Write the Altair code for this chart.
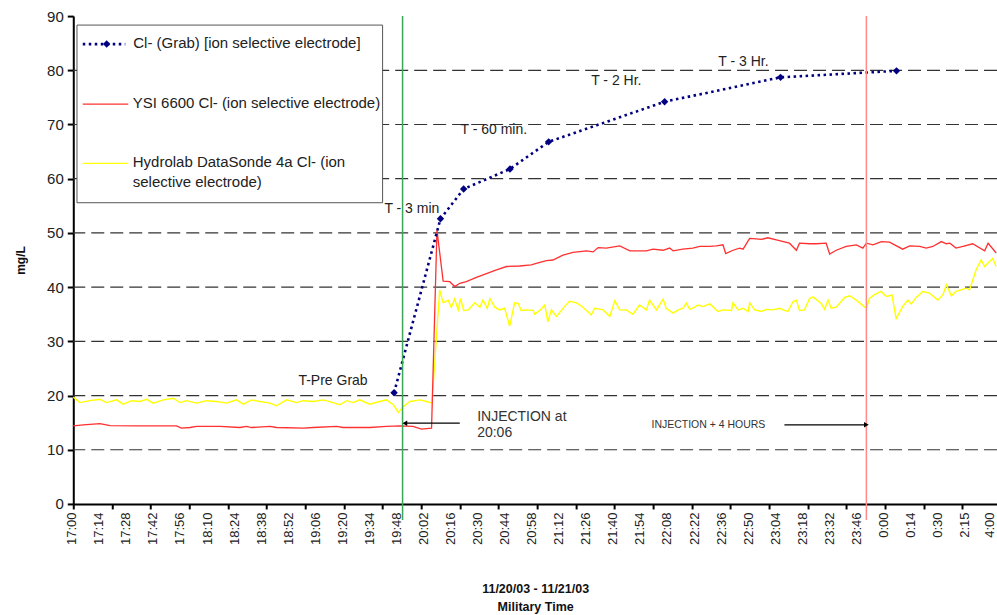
import altair as alt
import pandas as pd

# ---------------- data ----------------
# x is the category index of the Excel category axis (one category per 2-minute reading);
# tick labels are shown every 7 categories, tick marks every 10 categories.
x_labels = ["17:00", "17:14", "17:28", "17:42", "17:56", "18:10", "18:24", "18:38", "18:52",
            "19:06", "19:20", "19:34", "19:48", "20:02", "20:16", "20:30", "20:44", "20:58",
            "21:12", "21:26", "21:40", "21:54", "22:08", "22:22", "22:36", "22:50", "23:04",
            "23:18", "23:32", "23:46", "0:00", "0:14", "0:30", "2:15", "4:00"]
LABEL_STEP = 7
TICK_STEP = 10
N_CAT = 239

grab_x = [83, 95, 101, 113, 123, 153, 183, 213]
grab_y = [20.5, 52.6, 58.1, 61.8, 66.8, 74.2, 78.7, 79.9]

ysi_x = [0, 2.6, 6.9, 9.5, 16.4, 26.7, 28.0, 30.2, 31.9, 37.9, 43.1, 44.8, 46.1, 50.9, 52.6, 59.5,
         62.1, 68.1, 69.8, 76.7, 81.0, 84.5, 87.9, 90.1, 92.7, 94.1,
         95.7, 97.4, 98.7, 100, 101.7, 104.3, 106.9, 109.5, 112.1, 115.5, 118.5, 119.8, 122.4,
         124.1, 126.7, 129.3, 132.8, 134.5, 135.8, 137.9, 141.4, 144, 148.3, 150, 152.6, 154.3,
         155.2, 157.7, 160.3, 162.1, 164.6, 166.4, 168.1, 168.8, 170.7, 172.4, 173.3, 175,
         176.7, 178, 179.7, 181.9, 185.3, 187.1, 187.9, 190.5, 192.2, 194.8, 195.7, 197.4, 200,
         202.6, 204.3, 205.2, 206.9, 209.1, 211.2, 214.6, 216.4, 219, 220.7, 222.4, 224.6,
         225.9, 226.8, 228.4, 230.2, 232.7, 235.8, 236.7, 238.8]
ysi_y = [14.4, 14.6, 14.8, 14.45, 14.4, 14.4, 14.0, 14.1, 14.3, 14.3, 14.1, 14.3, 14.1, 14.3, 14.1, 14.0,
         14.1, 14.3, 14.1, 14.1, 14.3, 14.4, 14.3, 13.8, 14.0, 50.5,
         41.1, 41.0, 40.1, 40.7, 41.0, 41.8, 42.5, 43.2, 43.8, 43.9, 44.1, 44.4, 44.9,
         45.0, 45.9, 46.4, 46.7, 46.5, 47.3, 47.2, 47.6, 46.7, 46.7, 47.0, 46.8, 47.2,
         46.7, 47.0, 47.2, 47.5, 47.5, 47.6, 47.8, 46.2, 46.8, 47.2, 47.0, 49.0,
         48.9, 48.8, 49.1, 48.7, 48.1, 46.8, 48.1, 48.0, 48.0, 48.1, 46.1, 46.8, 47.5,
         47.8, 47.2, 48.1, 47.8, 48.4, 48.3, 47.0, 47.6, 47.5, 47.2, 47.5, 48.4,
         48.0, 48.1, 47.2, 47.5, 48.0, 46.7, 48.1, 46.3]

hydro_x = [0, 1.7, 4.3, 6.9, 8.6, 11.2, 12.9, 15.1, 17.2, 19.0, 20.7, 23.3, 25.9, 27.6, 29.3, 31.9,
           34.5, 37.1, 39.7, 42.2, 44.0, 46.1, 48.3, 50.9, 52.6, 55.2, 57.8, 59.5, 62.1, 64.7,
           67.2, 69.0, 70.7, 72.4, 74.1, 76.7, 79.3, 81.0, 82.8, 84.1, 85.3, 87.1, 89.7, 91.4,
           92.8, 94.8,
           95.7, 97.0, 97.8, 98.7, 99.6, 100.2, 101.0, 102.2, 103.9, 105.2, 106.0, 107.1, 107.8,
           109.05, 110.3, 111.6, 112.9, 114.2, 115.1, 115.9, 117.2, 119.0, 119.4, 120.7, 122.0,
           122.8, 123.7, 125.0, 127.1, 128.4, 130.2, 131.5, 134.0, 134.9, 137.1, 138.8, 140.1,
           141.4, 143.1, 144.8, 146.5, 148.3, 149.1, 150.9, 152.6, 153.4, 155.2, 156.5, 157.8,
           158.6, 159.5, 160.8, 161.6, 162.9, 164.7, 166.8, 168.1, 170.3, 170.7, 172.0, 173.3,
           174.6, 175.0, 176.3, 178.0, 179.3, 181.0, 182.8, 184.0, 184.9, 186.2, 187.1, 187.9,
           189.2, 190.5, 191.4, 193.5, 194.4, 195.3, 196.1, 197.4, 199.6, 200.9, 202.6, 205.2,
           206.0, 207.3, 209.0, 210.3, 211.2, 211.8, 212.9, 214.6, 215.9, 216.8, 218.1, 219.8,
           221.5, 223.7, 225.0, 225.9, 227.2, 228.4, 229.7, 231.0, 231.9, 233.6, 234.9, 235.8,
           236.6, 237.9, 238.8]
hydro_y = [19.7, 18.7, 19.05, 19.3, 18.7, 19.2, 18.4, 19.05, 18.9, 19.3, 18.6, 19.2, 19.5, 18.7, 19.05, 18.6,
           19.05, 18.9, 18.6, 19.2, 18.4, 19.2, 18.9, 18.6, 18.1, 19.2, 18.7, 19.05, 18.9, 19.2,
           18.7, 18.3, 19.05, 18.7, 19.2, 18.4, 18.9, 19.2, 18.3, 16.9, 17.9, 18.9, 19.2, 18.9,
           18.6, 39.5,
           37.1, 37.6, 36.3, 37.8, 35.8, 37.9, 35.7, 35.8, 37.1, 36.3, 37.6, 36.1, 37.9,
           36.3, 35.8, 36.1, 32.8, 37.1, 37.0, 35.7, 35.8, 35.7, 35.0, 35.7, 36.7,
           33.6, 35.8, 34.6, 36.4, 37.4, 37.1, 36.5, 34.9, 36.1, 35.8, 34.6, 37.5,
           35.8, 35.8, 35.0, 36.7, 35.8, 37.6, 35.8, 37.8, 36.1, 35.2, 35.8, 36.1,
           37.1, 35.9, 36.3, 36.7, 36.4, 36.9, 35.5, 35.8, 35.7, 37.1, 35.8, 36.1,
           35.5, 37.1, 35.8, 35.5, 35.9, 35.8, 36.1, 35.7, 35.5, 37.3, 37.6, 35.7,
           35.8, 37.9, 38.2, 37.0, 35.9, 37.6, 36.1, 36.3, 38.1, 38.4, 37.6, 36.1,
           37.9, 38.6, 39.2, 38.3, 38.4, 38.6, 34.2, 36.4, 37.6, 36.9, 38.1, 39.2,
           38.9, 37.6, 38.6, 40.4, 38.4, 39.2, 39.5, 39.8, 39.5, 43.2, 45.0, 43.8,
           44.4, 45.3, 43.8]

grid_values = [10, 20, 30, 40, 50, 60, 70, 80]

vline_x = [85.2, 205.2]          # injection, injection + 4 hours
vline_color = ["#3aa65a", "#ff8a8a"]

ann_center_text = ["T-Pre Grab", "T - 3 min", "T - 60 min.", "T - 2 Hr.", "T - 3 Hr."]
ann_center_x = [67.2, 87.6, 108.8, 140.5, 173.4]
ann_center_y = [22.6, 54.35, 69.0, 78.06, 81.6]

inj_text = ["INJECTION at", "20:06"]
inj_x = [104.5, 104.5]
inj_y = [16.1, 13.0]

inj4_text = ["INJECTION + 4 HOURS"]
inj4_x = [149.6]
inj4_y = [14.6]

arrow_from = [100.0, 184.0]
arrow_to = [85.8, 205.2]
arrow_y = [14.9, 14.6]
arrow_shape = ["triangle-left", "triangle-right"]

legend_labels = ["Cl- (Grab) [ion selective electrode]",
                 "YSI 6600 Cl- (ion selective electrode)",
                 "Hydrolab DataSonde 4a Cl- (ion",
                 "selective electrode)"]

# ---------------- chart ----------------
FONT = "Liberation Sans"
W, H = 924, 488

label_arr = "[" + ",".join("'" + s + "'" for s in x_labels) + "]"
tick_vals = sorted(set(range(0, N_CAT + 1, LABEL_STEP)) | set(range(0, N_CAT + 1, TICK_STEP)))
last_label = LABEL_STEP * (len(x_labels) - 1)

xs = alt.Scale(domain=[0, N_CAT], nice=False, zero=False)
ys = alt.Scale(domain=[0, 90], nice=False, zero=True)

x_axis = alt.Axis(
    values=tick_vals,
    labelExpr=f"datum.value % {LABEL_STEP} == 0 ? {label_arr}[datum.value / {LABEL_STEP}] : ''",
    labelAngle=-90, labelFont=FONT, labelFontSize=13, labelColor="#222", labelPadding=3,
    labelFlush=False, labelOverlap=False,
    labelOffset={"condition": {"test": f"datum.value == {last_label}", "value": -4}, "value": -1.5},
    tickSize=5, tickWidth=2, tickColor="black",
    tickOpacity={"condition": {"test": f"datum.value % {TICK_STEP} == 0", "value": 1}, "value": 0},
    domainColor="black", domainWidth=2, grid=False,
    title=["11/20/03 - 11/21/03", "Military Time"], titleFont=FONT, titleFontSize=12.5,
    titleFontWeight="bold", titleColor="#111", titleBaseline="top", titleY=79, titleLineHeight=18,
)
y_axis = alt.Axis(
    values=list(range(0, 91, 10)), grid=False,
    labelFont=FONT, labelFontSize=15, labelColor="#222", labelPadding=4, labelFlush=False,
    tickSize=6, tickWidth=2, tickColor="black", domainColor="black", domainWidth=2,
    title="mg/L", titleFont=FONT, titleFontSize=12, titleFontWeight="bold", titleColor="#111",
    titleAngle=270, titleX=-53, titleY=H / 2, titleBaseline="middle", titleAlign="center",
)

X = alt.X("x:Q", scale=xs, axis=x_axis)
Y = alt.Y("y:Q", scale=ys, axis=y_axis)

grid = alt.Chart(pd.DataFrame({"y": grid_values})).mark_rule(
    color="#333", strokeWidth=1.2, strokeDash=[13, 6]
).encode(y=Y)

hydro = alt.Chart(pd.DataFrame({"x": hydro_x, "y": hydro_y})).mark_line(
    color="#ffff00", strokeWidth=1.4
).encode(x=X, y=Y)

ysi = alt.Chart(pd.DataFrame({"x": ysi_x, "y": ysi_y})).mark_line(
    color="#ff3030", strokeWidth=1.3
).encode(x=X, y=Y)

df_grab = pd.DataFrame({"x": grab_x, "y": grab_y})
grab_line = alt.Chart(df_grab).mark_line(
    color="#000080", strokeWidth=2.6, strokeDash=[2.5, 3.5]
).encode(x=X, y=Y)
grab_pts = alt.Chart(df_grab).mark_point(
    shape="diamond", filled=True, color="#000080", size=55, opacity=1
).encode(x=X, y=Y)

vlines = alt.Chart(pd.DataFrame({"x": vline_x, "c": vline_color})).mark_rule(strokeWidth=1.5).encode(
    x=X, y=alt.value(0), y2=alt.value(H + 16), color=alt.Color("c:N", scale=None)
)

ann_c = alt.Chart(pd.DataFrame({"x": ann_center_x, "y": ann_center_y, "t": ann_center_text})).mark_text(
    font=FONT, fontSize=14, color="#222", align="center", baseline="middle"
).encode(x=X, y=Y, text="t:N")

ann_inj = alt.Chart(pd.DataFrame({"x": inj_x, "y": inj_y, "t": inj_text})).mark_text(
    font=FONT, fontSize=14, color="#333", align="left", baseline="middle"
).encode(x=X, y=Y, text="t:N")

ann_inj4 = alt.Chart(pd.DataFrame({"x": inj4_x, "y": inj4_y, "t": inj4_text})).mark_text(
    font=FONT, fontSize=10.5, color="#333", align="left", baseline="middle"
).encode(x=X, y=Y, text="t:N")

df_arrow = pd.DataFrame({"x": arrow_from, "x2": arrow_to, "y": arrow_y, "s": arrow_shape})
arrow_lines = alt.Chart(df_arrow).mark_rule(color="black", strokeWidth=1.3).encode(
    x=X, x2=alt.X2("x2"), y=Y
)
arrow_heads = alt.Chart(df_arrow).mark_point(filled=True, color="black", size=30, opacity=1).encode(
    x=alt.X("x2:Q", scale=xs, axis=x_axis), y=Y, shape=alt.Shape("s:N", scale=None)
)

# legend box (layout in pixels inside the plot area)
one = pd.DataFrame({"a": [0]})
leg_box = alt.Chart(one).mark_rect(fill="white", stroke="#555", strokeWidth=1).encode(
    x=alt.value(3.7), x2=alt.value(309.4), y=alt.value(9), y2=alt.value(186.7)
)
leg_grab_line = alt.Chart(one).mark_rule(color="#000080", strokeWidth=2.6, strokeDash=[2.5, 3.5]).encode(
    x=alt.value(9.5), x2=alt.value(52), y=alt.value(28)
)
leg_grab_pt = alt.Chart(one).mark_point(shape="diamond", filled=True, color="#000080", size=55, opacity=1).encode(
    x=alt.value(33.4), y=alt.value(28)
)
leg_ysi = alt.Chart(one).mark_rule(color="#ff3030", strokeWidth=1.3).encode(
    x=alt.value(9.5), x2=alt.value(55), y=alt.value(88)
)
leg_hydro = alt.Chart(one).mark_rule(color="#ffff00", strokeWidth=1.4).encode(
    x=alt.value(9.5), x2=alt.value(55), y=alt.value(147.3)
)
leg_text = alt.Chart(pd.DataFrame({"t": legend_labels, "px": [60, 59.5, 59.5, 59.5],
                                   "py": [27.3, 86.7, 145.7, 165.7]})).mark_text(
    font=FONT, fontSize=15, color="#222", align="left", baseline="middle"
).encode(x=alt.X("px:Q", scale=None), y=alt.Y("py:Q", scale=None), text="t:N")

chart = alt.layer(
    grid, hydro, ysi, grab_line, grab_pts, vlines,
    ann_c, ann_inj, ann_inj4, arrow_lines, arrow_heads,
    leg_box, leg_grab_line, leg_grab_pt, leg_ysi, leg_hydro, leg_text,
).properties(
    width=W, height=H,
    autosize=alt.AutoSizeParams(type="none"),
    padding={"left": 73.3, "top": 16, "right": 0, "bottom": 111},
    background="white",
).configure_view(stroke=None)

chart.save("out.html", embed_options={"renderer": "svg", "actions": False})
